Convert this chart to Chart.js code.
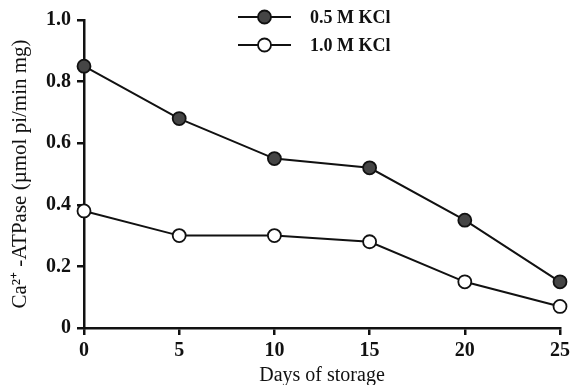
<!DOCTYPE html>
<html>
<head>
<meta charset="utf-8">
<script src="https://cdn.jsdelivr.net/npm/chart.js@4"></script>
<style>
  html, body { margin: 0; padding: 0; background: #fff; }
  #wrap { width: 574px; height: 385px; }
</style>
</head>
<body>
<div id="wrap"><canvas id="atpase-plot"></canvas></div>
<script>
var days = [0, 5, 10, 15, 20, 25];
var kcl05 = [0.85, 0.68, 0.55, 0.52, 0.35, 0.15];
var kcl10 = [0.38, 0.30, 0.30, 0.28, 0.15, 0.07];
var seriesNames = ['0.5 M KCl', '1.0 M KCl'];
var yTicks = [0, 0.2, 0.4, 0.6, 0.8, 1.0];

var serif = '"Liberation Serif", "Times New Roman", serif';

function pts(vals) {
    return days.map(function (d, i) { return { x: d, y: vals[i] }; });
}

// legend drawn by hand: line with a marker in the middle, then the label
var lineLegend = {
    id: 'lineLegend',
    afterDraw: function (chart) {
        var ctx = chart.ctx;
        var x0 = 238, x1 = 291, tx = 310;
        var rows = [17, 45];
        ctx.save();
        chart.data.datasets.forEach(function (ds, i) {
            var y = rows[i];
            ctx.strokeStyle = '#111';
            ctx.lineWidth = 2;
            ctx.beginPath();
            ctx.moveTo(x0, y);
            ctx.lineTo(x1, y);
            ctx.stroke();
            ctx.beginPath();
            ctx.arc((x0 + x1) / 2, y, 6.5, 0, Math.PI * 2);
            ctx.fillStyle = ds.pointBackgroundColor;
            ctx.fill();
            ctx.lineWidth = 1.8;
            ctx.stroke();
            ctx.fillStyle = '#111';
            ctx.font = 'bold 18px ' + serif;
            ctx.textBaseline = 'middle';
            ctx.fillText(ds.label, tx, y + 1);
        });
        ctx.restore();
    }
};

var data = {
    datasets: [{
        label: seriesNames[0],
        data: pts(kcl05),
        borderColor: '#111',
        borderWidth: 2,
        pointRadius: 6.5,
        pointBackgroundColor: '#454545',
        pointBorderColor: '#111',
        pointBorderWidth: 1.8,
        clip: false
    }, {
        label: seriesNames[1],
        data: pts(kcl10),
        borderColor: '#111',
        borderWidth: 2,
        pointRadius: 6.5,
        pointBackgroundColor: '#ffffff',
        pointBorderColor: '#111',
        pointBorderWidth: 1.8,
        clip: false
    }]
};

var layout = {
    type: 'line',
    data: data,
    plugins: [lineLegend],
    options: {
        responsive: true,
        maintainAspectRatio: false,
        animation: false,
        layout: { padding: { top: 20, right: 10, left: 4, bottom: 0 } },
        plugins: {
            legend: { display: false },
            tooltip: { enabled: false }
        },
        scales: {
            x: {
                type: 'linear',
                min: 0,
                max: 25,
                afterFit: function (s) { s.height = 57; },
                border: { color: '#111', width: 2.5 },
                grid: { display: true, drawOnChartArea: false, tickLength: 7, color: '#111', lineWidth: 2.5 },
                ticks: {
                    stepSize: 5,
                    color: '#111',
                    padding: 4,
                    font: { family: serif, size: 20, weight: 'bold' }
                },
                title: {
                    display: true,
                    text: 'Days of storage',
                    color: '#111',
                    padding: { top: 4, bottom: -3 },
                    font: { family: serif, size: 20 }
                }
            },
            y: {
                min: 0,
                max: 1.0,
                afterFit: function (s) { s.width = 80; },
                afterBuildTicks: function (s) {
                    s.ticks = yTicks.map(function (v) { return { value: v }; });
                },
                border: { color: '#111', width: 2.5 },
                grid: { display: true, drawOnChartArea: false, tickLength: 7, color: '#111', lineWidth: 2.5 },
                ticks: {
                    color: '#111',
                    padding: 6,
                    font: { family: serif, size: 20, weight: 'bold' },
                    callback: function (v) { return v === 0 ? '0' : v.toFixed(1); }
                },
                title: {
                    display: true,
                    text: 'Ca\u00B2\u207A -ATPase (\u00B5mol pi/min mg)',
                    color: '#111',
                    padding: { bottom: 0 },
                    font: { family: serif, size: 21 }
                }
            }
        }
    }
};

new Chart(document.getElementById('atpase-plot'), layout);
</script>
</body>
</html>
